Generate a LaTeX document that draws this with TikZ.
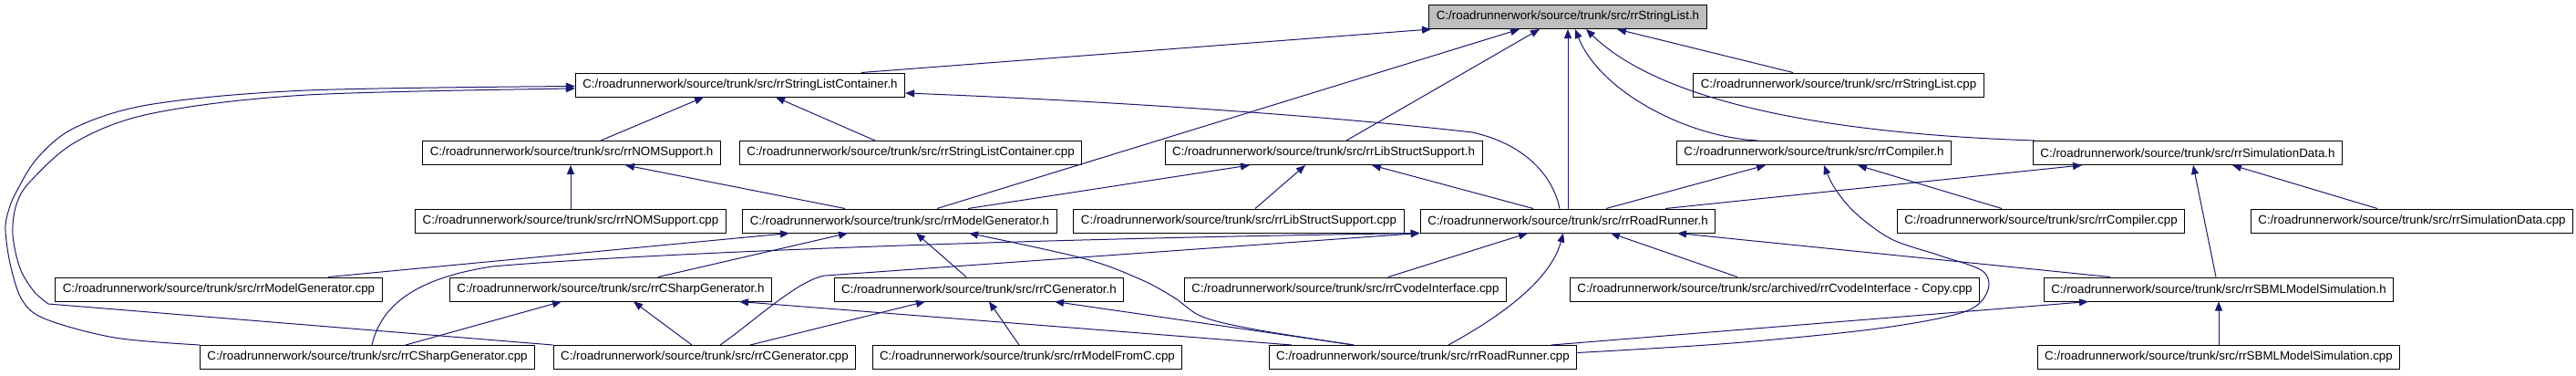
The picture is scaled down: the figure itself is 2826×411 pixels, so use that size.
\documentclass[tikz,border=0pt]{standalone}
\usepackage{fontspec}
\setmainfont{Liberation Sans}
\usetikzlibrary{arrows.meta,calc}
\definecolor{edgeblue}{RGB}{25,25,112}
\definecolor{rootgray}{RGB}{191,191,191}
\newcommand{\rrp}{C:/roadrunnerwork/source/trunk/src/}
\begin{document}
\begin{tikzpicture}[x=0.75pt,y=0.75pt,
  box/.style={draw=black,line width=0.75pt,fill=white,minimum height=19.5pt,inner xsep=6pt,inner ysep=0pt,font=\fontsize{10}{12}\selectfont,anchor=center},
  rootbox/.style={box,fill=rootgray},
  edge/.style={draw=edgeblue,line width=0.75pt,-{Triangle[length=7.5pt,width=6pt]}}]
\useasboundingbox (0,0) rectangle (2826,-411);
% row 0
\node[rootbox] (SL) at (1720,-18.5) {\rrp rrStringList.h};
% row 1
\node[box] (SLC) at (812,-93) {\rrp rrStringListContainer.h};
\node[box] (SLcpp) at (2017,-93) {\rrp rrStringList.cpp};
% row 2
\node[box] (NOMh) at (627,-167.5) {\rrp rrNOMSupport.h};
\node[box] (SLCcpp) at (999,-167.5) {\rrp rrStringListContainer.cpp};
\node[box] (LSSh) at (1452,-167.5) {\rrp rrLibStructSupport.h};
\node[box] (Comph) at (1990,-167.5) {\rrp rrCompiler.h};
\node[box] (SDh) at (2400,-167.5) {\rrp rrSimulationData.h};
% row 3
\node[box] (NOMcpp) at (626,-242) {\rrp rrNOMSupport.cpp};
\node[box] (MGh) at (987,-242) {\rrp rrModelGenerator.h};
\node[box] (LSScpp) at (1359,-242) {\rrp rrLibStructSupport.cpp};
\node[box] (RRh) at (1720,-242) {\rrp rrRoadRunner.h};
\node[box] (Compcpp) at (2239,-242) {\rrp rrCompiler.cpp};
\node[box] (SDcpp) at (2646,-242) {\rrp rrSimulationData.cpp};
% row 4
\node[box] (MGcpp) at (240,-317) {\rrp rrModelGenerator.cpp};
\node[box] (CSh) at (670,-317) {\rrp rrCSharpGenerator.h};
\node[box] (CGh) at (1074,-317) {\rrp rrCGenerator.h};
\node[box] (Cvode) at (1476,-317) {\rrp rrCvodeInterface.cpp};
\node[box] (Arch) at (1947,-317) {\rrp archived/rrCvodeInterface - Copy.cpp};
\node[box] (SBMLh) at (2434,-317) {\rrp rrSBMLModelSimulation.h};
% row 5
\node[box] (CScpp) at (403,-391.5) {\rrp rrCSharpGenerator.cpp};
\node[box] (CGcpp) at (773,-391.5) {\rrp rrCGenerator.cpp};
\node[box] (MFC) at (1127,-391.5) {\rrp rrModelFromC.cpp};
\node[box] (RRcpp) at (1561,-391.5) {\rrp rrRoadRunner.cpp};
\node[box] (SBMLcpp) at (2434,-391.5) {\rrp rrSBMLModelSimulation.cpp};

% helper coordinates
\coordinate (slcW) at ($(SLC.west)+(0,-1.5)$);
\coordinate (slcW2) at ($(SLC.west)+(0,-4)$);
\coordinate (rrcE) at ($(RRcpp.east)+(0,5)$);
\coordinate (compS) at ($(Comph.south)+(11,0)$);
\coordinate (rrcMG) at ($(RRcpp.north)+(-76,0)$);
\coordinate (mgS) at ($(MGh.south)+(76,0)$);

% into rrStringList.h
\draw[edge] ($(SLC.north)+(133,0)$) -- ($(SL.south)+(-150,0)$);
\draw[edge] ($(MGh.north)+(41,0)$) -- ($(SL.south)+(-53,0)$);
\draw[edge] ($(LSSh.north)+(25,0)$) -- ($(SL.south)+(-31,0)$);
\draw[edge] (RRh.north) -- (RRh.north |- SL.south);
\draw[edge] ($(Comph.north)+(-62,0)$) .. controls (1850,-150) and (1755,-100) .. ($(SL.south)+(8,0)$);
\draw[edge] ($(SDh.north)+(-168,0)$) .. controls (1960,-145) and (1810,-100) .. ($(SL.south)+(20,0)$);
\draw[edge] ($(SLcpp.north)+(-50,0)$) -- ($(SL.south)+(54,0)$);

% into rrStringListContainer.h
\draw[edge] ($(NOMh.north)+(32,0)$) -- ($(SLC.south)+(-40,0)$);
\draw[edge] ($(SLCcpp.north)+(-39,0)$) -- ($(SLC.south)+(39,0)$);
\draw[edge] ($(RRh.north)+(-9,0)$) .. controls (1703,-190) and (1670,-157) .. (1615,-145) .. controls (1450,-126) and (1200,-110) .. ($(SLC.east)+(0,-9)$);
\draw[edge] plot[smooth,tension=0.55] coordinates {(CScpp.north west) (126,-370) (51,-350) (25,-330) (12,-293) (6,-253) (9,-232) (18,-210) (42,-172) (84,-139) (168,-114) (337,-99) (slcW)};
\draw[edge] (CGcpp.north west) -- plot[smooth,tension=0.55] coordinates {(53,-333) (37,-319) (22,-294) (14,-257) (18,-224) (34,-198) (84,-155) (168,-124) (337,-104) (slcW2)};

% into rrNOMSupport.h
\draw[edge] (NOMcpp.north) -- (NOMcpp.north |- NOMh.south);
\draw[edge] ($(MGh.north)+(-60,0)$) -- ($(NOMh.south)+(59,0)$);

% into rrLibStructSupport.h
\draw[edge] ($(MGh.north)+(75,0)$) -- ($(LSSh.south)+(-81,0)$);
\draw[edge] ($(LSScpp.north)+(18,0)$) -- ($(LSSh.south)+(-20,0)$);
\draw[edge] ($(RRh.north)+(-38,0)$) -- ($(LSSh.south)+(53,0)$);

% into rrCompiler.h
\draw[edge] ($(RRh.north)+(42,0)$) -- ($(Comph.south)+(-53,0)$);
\draw[edge] ($(Compcpp.north)+(-43,0)$) -- ($(Comph.south)+(48,0)$);
\draw[edge] plot[smooth,tension=0.55] coordinates {(rrcE) (1900,-376) (2060,-360) (2154,-342) (2180,-320) (2175,-297) (2128,-280) (2075,-262) (2035,-233) (2012,-205) (compS)};

% into rrSimulationData.h
\draw[edge] ($(RRh.north)+(107,0)$) -- ($(SDh.south)+(-116,0)$);
\draw[edge] ($(SBMLh.north)+(-3,0)$) -- ($(SDh.south)+(6,0)$);
\draw[edge] ($(SDcpp.north)+(-38,0)$) -- ($(SDh.south)+(49,0)$);

% into rrModelGenerator.h
\draw[edge] ($(MGcpp.north)+(120,0)$) -- ($(MGh.south)+(-121,0)$);
\draw[edge] ($(CSh.north)+(52,0)$) -- ($(MGh.south)+(-57,0)$);
\draw[edge] ($(CGh.north)+(-14,0)$) -- ($(MGh.south)+(18,0)$);
\draw[edge] plot[smooth,tension=0.55] coordinates {(rrcMG) (1377,-361) (1319,-347) (1288,-326) (1251,-306) (1188,-283) (mgS)};

% into rrRoadRunner.h
\draw[edge] ($(CScpp.north)+(5,0)$) .. controls (418,-335) and (455,-305) .. (540,-292) .. controls (700,-278) and (1100,-262) .. (RRh.south west);
\draw[edge] ($(CGcpp.north)+(17,0)$) .. controls (830,-350) and (875,-307) .. (905,-302) -- (RRh.south west);
\draw[edge] ($(Cvode.north)+(47,0)$) -- ($(RRh.south)+(-44,0)$);
\draw[edge] ($(RRcpp.north)+(28,0)$) .. controls (1640,-350) and (1700,-310) .. ($(RRh.south)+(-5,0)$);
\draw[edge] ($(Arch.north)+(-41,0)$) -- ($(RRh.south)+(47,0)$);
\draw[edge] ($(SBMLh.north)+(-119,0)$) -- ($(RRh.south)+(120,0)$);

% into rrCSharpGenerator.h
\draw[edge] ($(CScpp.north)+(42,0)$) -- ($(CSh.south)+(-54,0)$);
\draw[edge] ($(CGcpp.north)+(-14,0)$) -- ($(CSh.south)+(25,0)$);
\draw[edge] ($(RRcpp.north)+(-144,0)$) -- ($(CSh.south)+(141,0)$);

% into rrCGenerator.h
\draw[edge] ($(CGcpp.north)+(50,0)$) -- ($(CGh.south)+(-59,0)$);
\draw[edge] ($(MFC.north)+(-9,0)$) -- ($(CGh.south)+(11,0)$);
\draw[edge] ($(RRcpp.north)+(-76,0)$) -- ($(CGh.south)+(83,0)$);

% into rrSBMLModelSimulation.h
\draw[edge] (SBMLcpp.north) -- (SBMLh.south);
\draw[edge] ($(RRcpp.north)+(141,0)$) -- ($(SBMLh.south)+(-143,0)$);
\end{tikzpicture}
\end{document}
